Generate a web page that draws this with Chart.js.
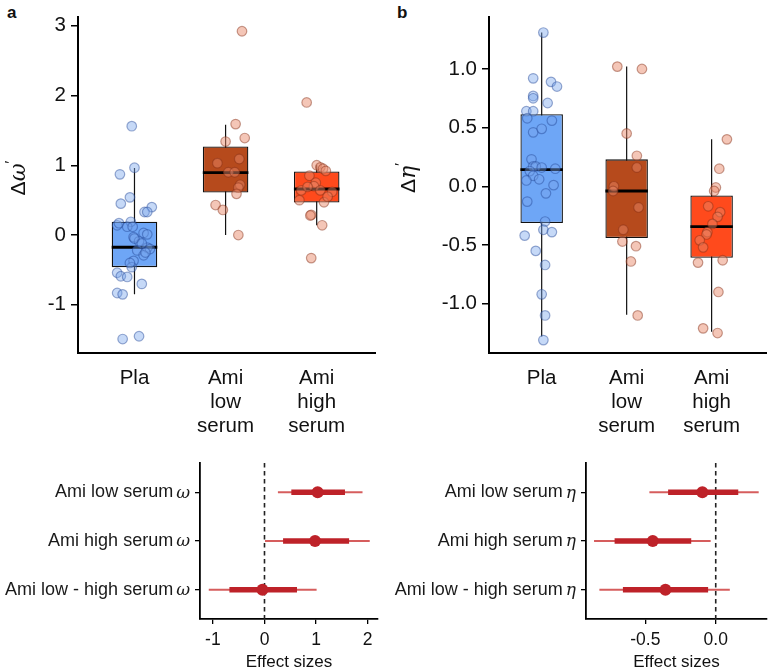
<!DOCTYPE html>
<html>
<head>
<meta charset="utf-8">
<script src="https://cdn.jsdelivr.net/npm/chart.js@4.4.1/dist/chart.umd.min.js"></script>
<style>
  body{margin:0;background:#fff;width:773px;height:671px;overflow:hidden;position:relative;font-family:"Liberation Sans",Arial,sans-serif}
  .pn{position:absolute}
  .lt{position:absolute;font-weight:bold;font-size:17px;color:#111}
</style>
</head>
<body>
<div class="lt" style="left:7px;top:3px">a</div>
<div class="lt" style="left:397px;top:3px">b</div>
<div class="pn" style="left:0;top:0;width:386px;height:440px"><canvas id="boxOmega"></canvas></div>
<div class="pn" style="left:386px;top:0;width:387px;height:440px"><canvas id="boxEta"></canvas></div>
<div class="pn" style="left:0;top:440px;width:386px;height:231px"><canvas id="fxOmega"></canvas></div>
<div class="pn" style="left:386px;top:440px;width:387px;height:231px"><canvas id="fxEta"></canvas></div>
<script>
// ---- grupos
const groups = ['Pla', 'Ami low serum', 'Ami high serum'];

// ---- panel a: Δω' (cajas + puntos)
const omegaQ1  = [-0.46, 0.61, 0.465];
const omegaMed = [-0.175, 0.895, 0.66];
const omegaQ3  = [0.19, 1.27, 0.91];
const omegaLo  = [-0.85, 0.0, 0.14];
const omegaHi  = [0.96, 1.58, 1.0];
const omegaTicks = [-1, 0, 1, 2, 3];

const omegaPla    = [1.56, 0.87, 0.965, 0.54, 0.45, 0.40, 0.33, 0.33, 0.14, 0.17, 0.19, 0.12, 0.12, 0.03, 0.01, -0.03, -0.09, -0.18, -0.2, -0.22, -0.29, -0.37, -0.46, -0.54, -0.59, -0.6, -0.7, -0.83, -0.85, -1.49, -1.45, -0.05, -0.25, -0.12, -0.40];
const omegaPlaJit = [-0.03, -0.16, 0.0, -0.05, -0.15, 0.19, 0.11, 0.14, -0.19, -0.17, -0.04, -0.08, -0.02, 0.10, 0.14, -0.01, 0.05, 0.14, 0.17, 0.03, 0.10, -0.01, -0.03, -0.19, -0.15, -0.08, 0.08, -0.19, -0.13, -0.13, 0.05, 0.0, 0.12, 0.08, -0.05];
const omegaLow    = [2.92, 1.59, 1.39, 1.34, 1.03, 1.09, 0.9, 0.9, 0.72, 0.68, 0.59, 0.43, 0.36, 0.0];
const omegaLowJit = [0.18, 0.11, 0.21, 0.0, -0.09, 0.15, 0.03, 0.10, 0.16, 0.14, 0.12, -0.11, -0.03, 0.14];
const omegaHigh    = [1.9, 1.0, 0.97, 0.95, 0.92, 0.85, 0.75, 0.7, 0.64, 0.64, 0.62, 0.47, 0.5, 0.29, 0.28, 0.14, -0.33, 0.69, 0.55];
const omegaHighJit = [-0.11, 0.0, 0.04, 0.07, 0.10, -0.08, -0.01, -0.03, -0.17, 0.04, 0.17, 0.08, -0.19, -0.06, -0.07, 0.06, -0.06, -0.10, 0.12];

// ---- panel b: Δη' (cajas + puntos)
const etaQ1  = [-0.313, -0.44, -0.608];
const etaMed = [0.142, -0.04, -0.344];
const etaQ3  = [0.614, 0.23, -0.078];
const etaLo  = [-1.28, -1.095, -1.24];
const etaHi  = [1.31, 1.02, 0.40];
const etaTicks = [-1, -0.5, 0, 0.5, 1];

const etaPla    = [1.31, 0.92, 0.89, 0.85, 0.77, 0.75, 0.71, 0.64, 0.64, 0.58, 0.56, 0.46, 0.49, 0.23, 0.17, 0.17, 0.16, 0.15, 0.13, 0.09, 0.06, 0.05, 0.01, -0.06, -0.13, -0.3, -0.37, -0.42, -0.39, -0.55, -0.67, -0.92, -1.1, -1.31];
const etaPlaJit = [0.02, -0.10, 0.11, 0.18, -0.10, -0.10, 0.07, -0.18, -0.10, -0.17, 0.12, -0.10, 0.0, -0.12, -0.10, -0.07, 0.0, 0.16, -0.14, -0.10, -0.03, -0.18, 0.14, 0.05, -0.17, 0.04, 0.02, -0.20, 0.12, -0.07, 0.04, 0.0, 0.04, 0.02];
const etaLow    = [1.02, 1.0, 0.45, 0.26, 0.16, 0.0, -0.04, -0.18, -0.37, -0.47, -0.51, -0.64, -1.1];
const etaLowJit = [-0.11, 0.18, 0.0, 0.12, 0.12, -0.15, -0.16, 0.14, -0.04, -0.05, 0.11, 0.05, 0.13];
const etaHigh    = [0.4, 0.15, -0.01, -0.04, -0.17, -0.22, -0.26, -0.32, -0.39, -0.41, -0.46, -0.52, -0.65, -0.63, -0.9, -1.21, -1.25];
const etaHighJit = [0.18, 0.09, 0.05, 0.03, -0.04, 0.10, 0.07, 0.01, -0.05, -0.06, -0.14, -0.10, -0.16, 0.13, 0.08, -0.10, 0.07];

// ---- paneles inferiores: tamaños de efecto
const fxRows = ['Ami low serum', 'Ami high serum', 'Ami low - high serum'];
const fxOmegaMean = [1.03, 0.98, -0.04];
const fxOmegaLo95 = [0.26, 0.01, -1.08];
const fxOmegaHi95 = [1.90, 2.04, 1.01];
const fxOmegaLo50 = [0.52, 0.36, -0.68];
const fxOmegaHi50 = [1.56, 1.64, 0.63];
const fxOmegaTicks = [-1, 0, 1, 2];

const fxEtaMean = [-0.095, -0.447, -0.357];
const fxEtaLo95 = [-0.471, -0.864, -0.826];
const fxEtaHi95 = [0.305, -0.036, 0.10];
const fxEtaLo50 = [-0.338, -0.718, -0.659];
const fxEtaHi50 = [0.16, -0.174, -0.054];
const fxEtaTicks = [-0.5, 0];
const fxZero = [0];

const SANS = '"Liberation Sans", Arial, sans-serif';
const boxFill = ['#6ea6f6', '#b64a1c', '#ff4a1c'];
const ptFill = ['rgba(120,165,235,0.42)', 'rgba(232,135,105,0.48)', 'rgba(232,135,105,0.48)'];
const ptLine = ['rgba(35,70,150,0.45)', 'rgba(130,45,20,0.45)', 'rgba(130,45,20,0.45)'];
const BOX_HALF = 0.25;

// título del eje Y con símbolos (Δ + letra griega cursiva + prima)
const mathTitle = {
  id: 'mathTitle',
  afterDraw(chart, args, o){
    const ctx = chart.ctx;
    const parts = [
      {t:'Δ', f:'21px ' + SANS, dy:0},
      {t:o.sym, f:'italic 22px "DejaVu Serif", serif', dy:0},
      {t:'\u2032', f:'15px ' + SANS, dy:-10}
    ];
    ctx.save();
    ctx.fillStyle = '#111';
    ctx.textBaseline = 'alphabetic';
    let w = 0;
    parts.forEach(p => { ctx.font = p.f; p.w = ctx.measureText(p.t).width; w += p.w; });
    ctx.translate(o.x, o.y);
    ctx.rotate(-Math.PI/2);
    let x = -w/2;
    parts.forEach(p => { ctx.font = p.f; ctx.fillText(p.t, x, 7 + p.dy); x += p.w; });
    ctx.restore();
  }
};

// etiquetas de filas: texto + símbolo griego en cursiva
const richLabels = {
  id: 'richLabels',
  afterDraw(chart, args, o){
    const ctx = chart.ctx, ys = chart.scales.y;
    ctx.save();
    ctx.fillStyle = '#1a1a1a';
    ctx.textBaseline = 'middle';
    o.rows.forEach((txt, i) => {
      const y = ys.getPixelForValue(i + 1);
      const x = ys.right - o.gap;
      ctx.font = 'italic 17px "DejaVu Serif", serif';
      const ws = ctx.measureText(o.sym).width;
      ctx.fillText(o.sym, x - ws, y + 1);
      ctx.font = '18px ' + SANS;
      const wt = ctx.measureText(txt + ' ').width;
      ctx.fillText(txt + ' ', x - ws - wt + 2, y);
    });
    ctx.restore();
  }
};

function boxChart(id, c){
  const ds = [];
  groups.forEach((g, i) => {
    ds.push({type:'line', data:[{x:i+1, y:c.lo[i]}, {x:i+1, y:c.hi[i]}],
      borderColor:'#111', borderWidth:1.2, pointRadius:0, order:4});
  });
  ds.push({type:'bar', data:groups.map((g, i) => ({x:i+1, y:[c.q1[i], c.q3[i]]})),
    backgroundColor:boxFill, borderColor:'#111', borderWidth:1.3, borderSkipped:false,
    categoryPercentage:BOX_HALF*2, barPercentage:1, order:3});
  groups.forEach((g, i) => {
    ds.push({type:'line', data:[{x:i+1-BOX_HALF, y:c.med[i]}, {x:i+1+BOX_HALF, y:c.med[i]}],
      borderColor:'#000', borderWidth:2.8, pointRadius:0, order:2});
  });
  c.pts.forEach((vals, i) => {
    ds.push({type:'scatter', data:vals.map((v, k) => ({x:i+1+c.jit[i][k], y:v})),
      backgroundColor:ptFill[i], borderColor:ptLine[i], borderWidth:1.2, pointRadius:4.8, order:1});
  });
  return new Chart(document.getElementById(id), {
    type:'scatter',
    data:{datasets:ds},
    plugins:[mathTitle],
    options:{
      responsive:true, maintainAspectRatio:false, animation:false,
      layout:{padding:{left:0, top:10, right:c.padRight, bottom:0}},
      plugins:{legend:{display:false}, tooltip:{enabled:false}, mathTitle:{x:c.titleX, y:178, sym:c.sym}},
      scales:{
        x:{type:'linear', min:0.38, max:3.64, offset:false,
          afterBuildTicks:s => { s.ticks = groups.map((g, i) => ({value:i+1})); },
          afterFit:s => { s.height = 87; },
          grid:{display:false}, border:{display:true, color:'#000', width:2},
          ticks:{autoSkip:false, maxRotation:0, padding:5, color:'#111',
            font:{family:SANS, size:20.5, lineHeight:1.17},
            callback:(v, i) => groups[i].split(' ')}},
        y:{type:'linear', min:c.yMin, max:c.yMax,
          afterBuildTicks:s => { s.ticks = c.ticks.map(v => ({value:v})); },
          afterFit:s => { s.width = c.axisLeft; },
          grid:{display:true, drawOnChartArea:false, drawTicks:true, tickLength:7, color:'#000', lineWidth:1.5},
          border:{display:true, color:'#000', width:2},
          ticks:{padding:5, color:'#111', font:{family:SANS, size:20.5}, callback:c.fmt}}
      }
    }
  });
}

function fxChart(id, c){
  const ds = [];
  ds.push({type:'line', data:[{x:fxZero[0], y:0.4}, {x:fxZero[0], y:3.6}],
    borderColor:'#222', borderWidth:1.6, borderDash:[4.5, 3.5], pointRadius:0, order:4});
  fxRows.forEach((r, i) => {
    ds.push({type:'line', data:[{x:c.lo95[i], y:i+1}, {x:c.hi95[i], y:i+1}],
      borderColor:'rgba(210,75,75,0.9)', borderWidth:2, pointRadius:0, order:3});
    ds.push({type:'line', data:[{x:c.lo50[i], y:i+1}, {x:c.hi50[i], y:i+1}],
      borderColor:'#be2229', borderWidth:5.5, pointRadius:0, borderCapStyle:'butt', order:2});
  });
  ds.push({type:'scatter', data:c.mean.map((v, i) => ({x:v, y:i+1})),
    backgroundColor:'#be2229', borderColor:'#be2229', pointRadius:6, borderWidth:0, order:1});
  return new Chart(document.getElementById(id), {
    type:'scatter',
    data:{datasets:ds},
    plugins:[richLabels],
    options:{
      responsive:true, maintainAspectRatio:false, animation:false,
      layout:{padding:{left:0, top:23, right:c.padRight, bottom:0}},
      plugins:{legend:{display:false}, tooltip:{enabled:false}, richLabels:{rows:fxRows, sym:c.sym, gap:10}},
      scales:{
        x:{type:'linear', min:c.xMin, max:c.xMax,
          afterBuildTicks:s => { s.ticks = c.ticks.map(v => ({value:v})); },
          afterFit:s => { s.height = 52; },
          grid:{display:true, drawOnChartArea:false, drawTicks:true, tickLength:5, color:'#000', lineWidth:1.3},
          border:{display:true, color:'#000', width:1.8},
          title:{display:true, text:'Effect sizes', color:'#111', font:{family:SANS, size:17, lineHeight:1.0}, padding:{top:0, bottom:0}},
          ticks:{padding:6, color:'#111', font:{family:SANS, size:17.5}, callback:c.fmt}},
        y:{type:'linear', min:0.4, max:3.6, reverse:true,
          afterBuildTicks:s => { s.ticks = fxRows.map((r, i) => ({value:i+1})); },
          afterFit:s => { s.width = 200; },
          grid:{display:true, drawOnChartArea:false, drawTicks:true, tickLength:5, color:'#000', lineWidth:1.3},
          border:{display:true, color:'#000', width:1.8},
          ticks:{callback:() => ''}}
      }
    }
  });
}

boxChart('boxOmega', {q1:omegaQ1, med:omegaMed, q3:omegaQ3, lo:omegaLo, hi:omegaHi,
  pts:[omegaPla, omegaLow, omegaHigh], jit:[omegaPlaJit, omegaLowJit, omegaHighJit],
  yMin:-1.69, yMax:3.12, ticks:omegaTicks, fmt:v => String(v), axisLeft:78, padRight:11, titleX:18, sym:'ω'});
boxChart('boxEta', {q1:etaQ1, med:etaMed, q3:etaQ3, lo:etaLo, hi:etaHi,
  pts:[etaPla, etaLow, etaHigh], jit:[etaPlaJit, etaLowJit, etaHighJit],
  yMin:-1.42, yMax:1.44, ticks:etaTicks, fmt:v => v.toFixed(1), axisLeft:103, padRight:7, titleX:22, sym:'η'});
fxChart('fxOmega', {mean:fxOmegaMean, lo95:fxOmegaLo95, hi95:fxOmegaHi95, lo50:fxOmegaLo50, hi50:fxOmegaHi50,
  xMin:-1.25, xMax:2.2, ticks:fxOmegaTicks, fmt:v => String(v), padRight:8, sym:'ω'});
fxChart('fxEta', {mean:fxEtaMean, lo95:fxEtaLo95, hi95:fxEtaHi95, lo50:fxEtaLo50, hi50:fxEtaHi50,
  xMin:-0.921, xMax:0.364, ticks:fxEtaTicks, fmt:v => v.toFixed(1), padRight:4, sym:'η'});
</script>
</body>
</html>
